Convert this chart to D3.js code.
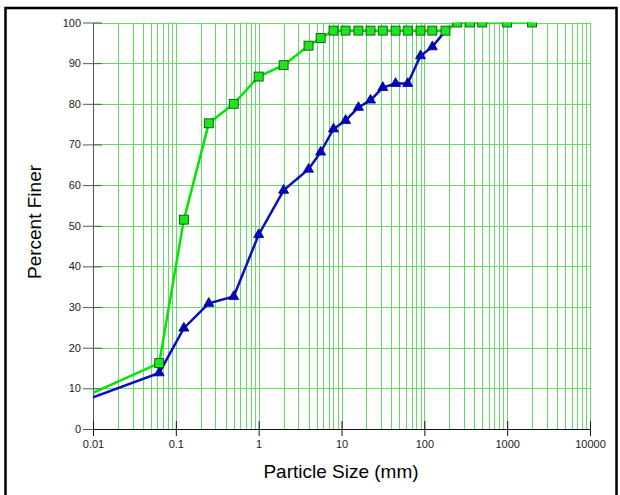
<!DOCTYPE html>
<html><head><meta charset="utf-8">
<script src="https://cdn.jsdelivr.net/npm/d3@7"></script>
<style>body{margin:0;background:#fff}svg{display:block;font-family:"Liberation Sans",Arial,sans-serif}</style>
</head><body>
<svg id="c" width="620" height="495"></svg>
<script>
const chartTitle = "Particle Size Distribution";
const xTitle = "Particle Size (mm)";
const yTitle = "Percent Finer";
const xTickValues = [0.01, 0.1, 1, 10, 100, 1000, 10000];
const xTickLabels = ["0.01", "0.1", "1", "10", "100", "1000", "10000"];
const yTickValues = [0, 10, 20, 30, 40, 50, 60, 70, 80, 90, 100];

const fineSizes   = [0.01, 0.063, 0.125, 0.25, 0.5, 1, 2, 4, 5.6, 8, 11.2, 16, 22.4, 31.5, 45, 63, 90, 125, 180, 250, 355, 500, 1000, 2000];
const fineValues  = [8.9, 16.2, 51.5, 75.2, 80.0, 86.7, 89.5, 94.3, 96.2, 98, 98, 98, 98, 98, 98, 98, 98, 98, 98, 100, 100, 100, 100, 100];
const fineMarked  = [false, true, true, true, true, true, true, true, true, true, true, true, true, true, true, true, true, true, true, true, true, true, true, true];

const coarseSizes  = [0.01, 0.063, 0.125, 0.25, 0.5, 1, 2, 4, 5.6, 8, 11.2, 16, 22.4, 31.5, 45, 63, 90, 125, 180];
const coarseValues = [7.8, 13.8, 24.8, 30.9, 32.6, 47.8, 58.7, 63.9, 68.1, 73.8, 75.9, 79.1, 80.9, 84.0, 85.0, 85.0, 91.8, 94.0, 98.0];
const coarseMarked = [false, true, true, true, true, true, true, true, true, true, true, true, true, true, true, true, true, true, false];

const svg = d3.select("#c");
const x = d3.scaleLog().domain([0.01, 10000]).range([93, 590]);
const y = d3.scaleLinear().domain([0, 100]).range([429, 22.5]);

// frame
svg.append("rect").attr("x", 5.5).attr("y", 8).attr("width", 611).attr("height", 500)
  .attr("fill", "none").attr("stroke", "#000").attr("stroke-width", 2.5);
// cut-off title (only its lowest pixels show, as in the reference)
svg.append("text").attr("x", 284).attr("y", -1).attr("text-anchor", "middle")
  .attr("font-size", 21).attr("fill", "#aaa").text(chartTitle);

const grid = svg.append("g").attr("stroke", "#66da66").attr("stroke-width", 1);
const minorVals = [];
for (let e = -2; e <= 3; e++) for (let m = 1; m <= 9; m++) {
  const v = m * Math.pow(10, e);
  if (v > 0.0100001) minorVals.push(v);
}
minorVals.push(10000);
grid.selectAll("line.v").data(minorVals).join("line").attr("class", "v")
  .attr("x1", d => Math.round(x(d)) + 0.5).attr("x2", d => Math.round(x(d)) + 0.5)
  .attr("y1", y(0)).attr("y2", y(100));
grid.selectAll("line.h").data(yTickValues.filter(d => d > 0)).join("line").attr("class", "h")
  .attr("x1", x(0.01)).attr("x2", x(10000))
  .attr("y1", d => Math.round(y(d)) + 0.5).attr("y2", d => Math.round(y(d)) + 0.5);

// y axis
const yAxis = d3.axisLeft(y).tickValues(yTickValues).tickSize(0).tickPadding(12);
const gy = svg.append("g").attr("transform", "translate(93,0)").call(yAxis);
gy.select(".domain").attr("stroke", "#555");
gy.selectAll(".tick text").attr("font-size", 11).attr("fill", "#222").attr("font-family", "Liberation Sans, Arial, sans-serif");
gy.selectAll(".tick").append("line").attr("x1", -10).attr("x2", 9).attr("stroke", "#555");

// x axis
const xAxis = d3.axisBottom(x).tickValues(xTickValues).tickFormat((d, i) => xTickLabels[i]).tickSize(0).tickPadding(11);
const gx = svg.append("g").attr("transform", "translate(0,429)").call(xAxis);
gx.select(".domain").attr("stroke", "#111");
gx.selectAll(".tick text").attr("font-size", 11).attr("fill", "#222").attr("font-family", "Liberation Sans, Arial, sans-serif");
gx.selectAll(".tick").append("line").attr("y1", -8).attr("y2", 7).attr("stroke", "#111");

// axis titles
svg.append("text").attr("x", 341).attr("y", 478).attr("text-anchor", "middle")
  .attr("font-size", 19).attr("fill", "#000").text(xTitle);
svg.append("text").attr("transform", "translate(41,222) rotate(-90)").attr("text-anchor", "middle")
  .attr("font-size", 19).attr("fill", "#000").text(yTitle);

// clip
svg.append("clipPath").attr("id", "pc").append("rect")
  .attr("x", x(0.01)).attr("y", y(100)).attr("width", x(10000) - x(0.01)).attr("height", y(0) - y(100));
const plot = svg.append("g").attr("clip-path", "url(#pc)");

const line = d3.line().x(d => x(d[0])).y(d => y(d[1]));
const coarse = coarseSizes.map((s, i) => [s, coarseValues[i], coarseMarked[i]]);
const fine = fineSizes.map((s, i) => [s, fineValues[i], fineMarked[i]]);

plot.append("path").datum(coarse).attr("d", line).attr("fill", "none")
  .attr("stroke", "#0a0ac8").attr("stroke-width", 2.5);
const tri = d3.symbol().type(d3.symbolTriangle).size(44);
plot.selectAll("path.tri").data(coarse.filter(d => d[2])).join("path").attr("class", "tri")
  .attr("d", tri).attr("transform", d => `translate(${x(d[0])},${y(d[1])})`)
  .attr("fill", "#0000d0").attr("stroke", "#000060").attr("stroke-width", 0.8);

plot.append("path").datum(fine).attr("d", line).attr("fill", "none")
  .attr("stroke", "#00e600").attr("stroke-width", 2.5);
plot.selectAll("rect.sq").data(fine.filter(d => d[2])).join("rect").attr("class", "sq")
  .attr("x", d => x(d[0]) - 4.5).attr("y", d => y(d[1]) - 4.5).attr("width", 9).attr("height", 9)
  .attr("fill", "#1ee61e").attr("stroke", "#064006").attr("stroke-width", 0.8);
</script>
</body></html>
